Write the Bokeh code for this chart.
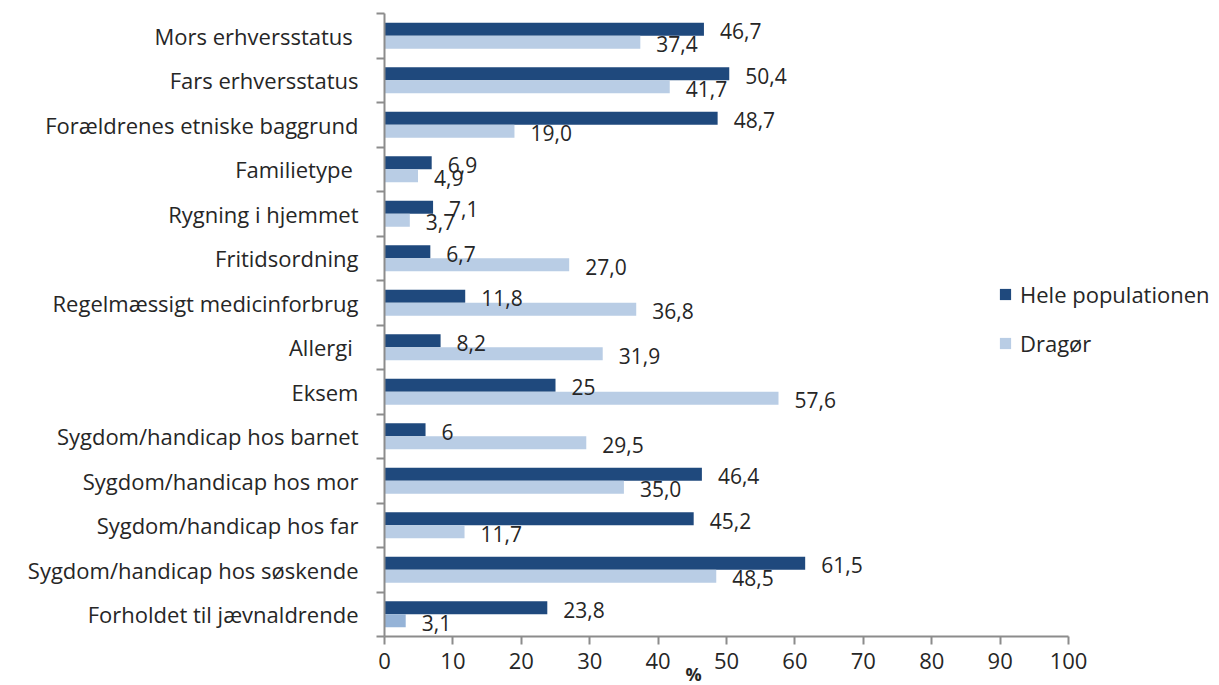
from bokeh.plotting import figure
from bokeh.models import ColumnDataSource, Range1d, FixedTicker, Legend, LegendItem, Title
from bokeh.transform import dodge
from bokeh.core.properties import value
from bokeh.embed import file_html
from bokeh.resources import INLINE

categories = [
    "Mors erhversstatus ",
    "Fars erhversstatus",
    "Forældrenes etniske baggrund",
    "Familietype ",
    "Rygning i hjemmet",
    "Fritidsordning",
    "Regelmæssigt medicinforbrug",
    "Allergi ",
    "Eksem",
    "Sygdom/handicap hos barnet",
    "Sygdom/handicap hos mor",
    "Sygdom/handicap hos far",
    "Sygdom/handicap hos søskende",
    "Forholdet til jævnaldrende",
]
hele = [46.7, 50.4, 48.7, 6.9, 7.1, 6.7, 11.8, 8.2, 25, 6, 46.4, 45.2, 61.5, 23.8]
hele_labels = ["46,7", "50,4", "48,7", "6,9", "7,1", "6,7", "11,8", "8,2", "25", "6",
               "46,4", "45,2", "61,5", "23,8"]
dragoer = [37.4, 41.7, 19.0, 4.9, 3.7, 27.0, 36.8, 31.9, 57.6, 29.5, 35.0, 11.7, 48.5, 3.1]
dragoer_labels = ["37,4", "41,7", "19,0", "4,9", "3,7", "27,0", "36,8", "31,9", "57,6",
                  "29,5", "35,0", "11,7", "48,5", "3,1"]
x_ticks = [0, 10, 20, 30, 40, 50, 60, 70, 80, 90, 100]
series_names = ["Hele populationen", "Dragør"]
axis_title = "%"

DARK = "#1F497D"
LIGHT = "#B9CDE5"
LIGHT_LAST = "#95B3D7"
TEXT = "#262626"
AXIS = "#8C8C8C"
FONT = "Open Sans"

n = len(categories)
pos = [i + 0.5 for i in range(n)]
light_colors = [LIGHT] * (n - 1) + [LIGHT_LAST]

src = ColumnDataSource(dict(
    pos=pos, hele=hele, dragoer=dragoer,
    hl=hele_labels, dl=dragoer_labels, lc=light_colors,
))

p = figure(width=1211, height=684, output_backend="svg", toolbar_location=None,
           x_range=Range1d(0, 120.9), y_range=Range1d(n, 0),
           min_border_left=384, min_border_right=0, min_border_top=13,
           min_border_bottom=48, outline_line_color=None)
p.xgrid.grid_line_color = None
p.ygrid.grid_line_color = None
p.background_fill_color = "white"

bh = 0.29
r1 = p.hbar(y=dodge("pos", -0.145, range=p.y_range), right="hele", left=0, height=bh,
            source=src, fill_color=DARK, line_color=None)
r2 = p.hbar(y=dodge("pos", 0.145, range=p.y_range), right="dragoer", left=0, height=bh,
            source=src, fill_color="lc", line_color=None)

p.text(x="hele", y=dodge("pos", -0.145, range=p.y_range), text="hl", source=src,
       x_offset=16, y_offset=2, text_baseline="middle", text_align="left",
       text_font=value(FONT), text_font_size="21px", text_color=TEXT)
p.text(x="dragoer", y=dodge("pos", 0.145, range=p.y_range), text="dl", source=src,
       x_offset=16, y_offset=2, text_baseline="middle", text_align="left",
       text_font=value(FONT), text_font_size="21px", text_color=TEXT)

# x axis
xa = p.xaxis[0]
xa.ticker = FixedTicker(ticks=x_ticks)
xa.bounds = (0, 100)
xa.axis_line_color = AXIS
xa.axis_line_width = 2
xa.major_tick_line_color = AXIS
xa.major_tick_line_width = 2
xa.major_tick_in = 0
xa.major_tick_out = 8
xa.minor_tick_line_color = None
xa.major_label_text_font = FONT
xa.major_label_text_font_size = "22px"
xa.major_label_text_color = TEXT
xa.major_label_standoff = 8

# y axis
ya = p.yaxis[0]
ya.ticker = FixedTicker(ticks=pos, minor_ticks=list(range(n + 1)))
ya.major_label_overrides = {p_: c for p_, c in zip(pos, categories)}
ya.axis_line_color = AXIS
ya.axis_line_width = 2
ya.major_tick_line_color = None
ya.minor_tick_line_color = AXIS
ya.minor_tick_line_width = 2
ya.minor_tick_in = 0
ya.minor_tick_out = 8
ya.major_label_text_font = FONT
ya.major_label_text_font_size = "22px"
ya.major_label_text_color = TEXT
ya.major_label_standoff = 18

# "%" title below the axis, just left of 50
pct = Title(text=axis_title, align="left", offset=301, standoff=-24,
            text_font=FONT, text_font_size="18px", text_font_style="bold",
            text_color=TEXT)
p.add_layout(pct, "below")

legend = Legend(items=[LegendItem(label=series_names[0], renderers=[r1]),
                       LegendItem(label=series_names[1], renderers=[r2], index=0)],
                location=(614, 278), border_line_color=None, background_fill_alpha=0,
                label_text_font=FONT, label_text_font_size="22px",
                label_text_color=TEXT, glyph_width=14, glyph_height=14,
                spacing=19, label_standoff=8, padding=0, margin=0)
p.add_layout(legend)

open("out.html", "w").write(file_html(p, INLINE))
